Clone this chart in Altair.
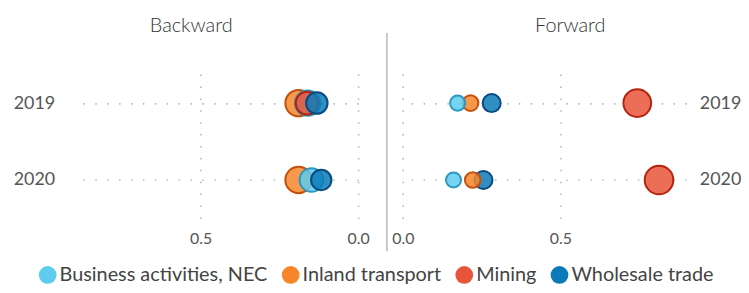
import altair as alt
import pandas as pd

industries = ["Business activities, NEC", "Inland transport", "Mining", "Wholesale trade"]
fill_colors = ["#5ecbef", "#f7862a", "#e9553a", "#0a7bb8"]
stroke_colors = ["#2a98c0", "#c4500f", "#b3240f", "#0b4a80"]
years = ["2019", "2020"]
x_ticks = [0.0, 0.5]

back_industry = ["Business activities, NEC", "Inland transport", "Mining", "Wholesale trade",
                 "Business activities, NEC", "Inland transport", "Wholesale trade"]
back_year = ["2019", "2019", "2019", "2019", "2020", "2020", "2020"]
back_value = [0.160, 0.189, 0.162, 0.131, 0.148, 0.189, 0.117]
back_weight = [0.66, 0.71, 0.53, 0.47, 0.57, 0.71, 0.42]

fwd_industry = ["Business activities, NEC", "Inland transport", "Mining", "Wholesale trade",
                "Business activities, NEC", "Inland transport", "Mining", "Wholesale trade"]
fwd_year = ["2019", "2019", "2019", "2019", "2020", "2020", "2020", "2020"]
fwd_value = [0.174, 0.215, 0.744, 0.282, 0.161, 0.222, 0.813, 0.256]
fwd_weight = [0.23, 0.25, 0.78, 0.33, 0.23, 0.25, 0.83, 0.33]

back_df = pd.DataFrame({"industry": back_industry, "year": back_year,
                        "value": back_value, "weight": back_weight})
fwd_df = pd.DataFrame({"industry": fwd_industry, "year": fwd_year,
                       "value": fwd_value, "weight": fwd_weight})

FONT = "Lato"
W, H = 286, 155


def points(df, reverse, y_orient, show_legend, label_pad):
    legend = alt.Legend(
        title=None, orient="none", direction="horizontal",
        legendX=-37, legendY=202, symbolType="circle", symbolSize=320,
        symbolStrokeWidth=0, symbolOpacity=1, labelFont=FONT, labelFontSize=20,
        labelColor="#444", columnPadding=13, labelOffset=2, labelLimit=400,
        padding=0,
    ) if show_legend else None
    return alt.Chart(df).mark_circle(opacity=1, fillOpacity=0.85, strokeOpacity=1,
                                     strokeWidth=2).encode(
        x=alt.X("value:Q",
                scale=alt.Scale(domain=[0, 0.9], reverse=reverse, nice=False),
                axis=alt.Axis(values=x_ticks, format=".1f", title=None, grid=True,
                              gridDash=[1.5, 10.5], gridColor="#b8b8b8", gridWidth=1.6,
                              domain=False, ticks=False, labelPadding=12,
                              labelFlush=False,
                              labelFont=FONT, labelFontSize=16, labelColor="#555")),
        y=alt.Y("year:N", sort=years,
                scale=alt.Scale(type="point", padding=0.5),
                axis=alt.Axis(orient=y_orient, title=None, grid=True,
                              gridDash=[1.5, 10.5], gridColor="#b8b8b8", gridWidth=1.6,
                              domain=False, ticks=False, labelPadding=label_pad,
                              labelFont=FONT, labelFontSize=18, labelColor="#555")),
        fill=alt.Fill("industry:N", scale=alt.Scale(domain=industries, range=fill_colors),
                      legend=legend),
        stroke=alt.Stroke("industry:N",
                          scale=alt.Scale(domain=industries, range=stroke_colors),
                          legend=None),
        size=alt.Size("weight:Q", scale=alt.Scale(domain=[0, 1], range=[0, 1000]),
                      legend=None),
        order=alt.Order("weight:Q", sort="descending"),
    ).properties(width=W, height=H)


def title(text, dx, dy):
    return alt.TitleParams(text, frame="bounds", anchor="middle", font=FONT,
                           fontSize=20, fontWeight=300, color="#333", offset=29,
                           dx=dx, dy=dy)


back = points(back_df, True, "left", True, 20).properties(title=title("Backward", 0, 0))

# separator line drawn just left of the forward panel
sep = alt.Chart(pd.DataFrame({"sep": [0]})).mark_rule(color="#c8c8c8", strokeWidth=2).encode(
    x=alt.value(-16), y=alt.value(-32), y2=alt.value(188))
fwd = alt.layer(points(fwd_df, False, "right", False, 13), sep).properties(
    title=title("Forward", 7, 33))

chart = alt.hconcat(
    back, fwd, spacing=16,
    padding={"left": 5, "right": 0, "top": 7, "bottom": 0},
).configure_view(strokeWidth=0)

chart.save("out.html", embed_options={"renderer": "svg", "actions": False})
